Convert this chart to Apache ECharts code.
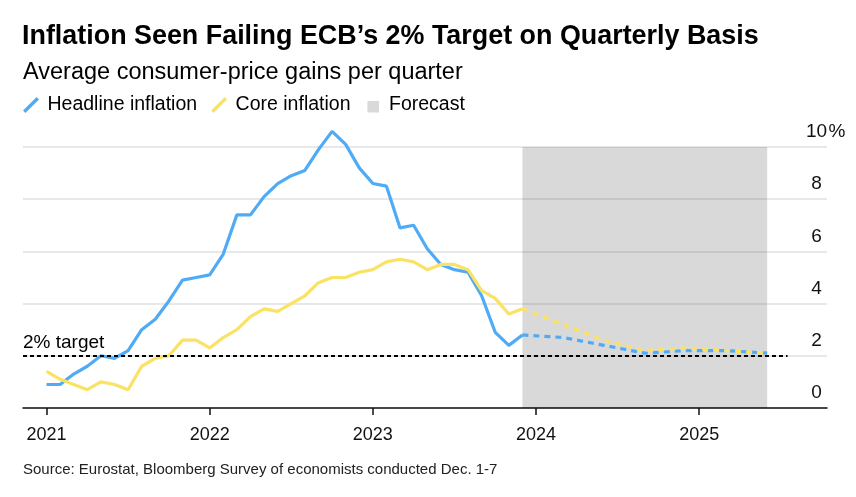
<!DOCTYPE html>
<html>
<head>
<meta charset="utf-8">
<script src="https://cdn.jsdelivr.net/npm/echarts@6/dist/echarts.min.js"></script>
<style>
html,body{margin:0;padding:0;background:#fff;}
#chart{width:856px;height:497px;}
</style>
</head>
<body>
<div id="chart"></div>
<script>
// ---- data ----
var startYear = 2021;
var yearLabels = ['2021', '2022', '2023', '2024', '2025'];
// monthly actuals Jan 2021 .. Dec 2023
var headline = [0.9, 0.9, 1.3, 1.6, 2.0, 1.9, 2.2, 3.0, 3.4, 4.1, 4.9, 5.0,
                5.1, 5.9, 7.4, 7.4, 8.1, 8.6, 8.9, 9.1, 9.9, 10.6, 10.1, 9.2,
                8.6, 8.5, 6.9, 7.0, 6.1, 5.5, 5.3, 5.2, 4.3, 2.9, 2.4, 2.8];
var core = [1.4, 1.1, 0.9, 0.7, 1.0, 0.9, 0.7, 1.6, 1.9, 2.0, 2.6, 2.6,
            2.3, 2.7, 3.0, 3.5, 3.8, 3.7, 4.0, 4.3, 4.8, 5.0, 5.0, 5.2,
            5.3, 5.6, 5.7, 5.6, 5.3, 5.5, 5.5, 5.3, 4.5, 4.2, 3.6, 3.8];
// quarterly forecasts
var forecastMonths = ['2023-12', '2024-03', '2024-06', '2024-09', '2024-12', '2025-03', '2025-06'];
var headlineForecast = [2.8, 2.7, 2.4, 2.1, 2.2, 2.2, 2.1];
var coreForecast = [3.8, 3.2, 2.6, 2.2, 2.3, 2.2, 2.1];
var target = 2;
var targetEndMonth = 54.5;   // target line ends mid-July 2025 (months since Jan 2021)
var yTicks = [0, 2, 4, 6, 8, 10];

// ---- helpers ----
function monthIndex(s) {
  var p = s.split('-');
  return (parseInt(p[0], 10) - startYear) * 12 + (parseInt(p[1], 10) - 1);
}
var actualX = headline.map(function (v, i) { return i; });
var yearTicks = yearLabels.map(function (y) { return monthIndex(y + '-01'); });

var BLUE = '#4fabf5';
var YELLOW = '#fae264';
var FONT = '"Liberation Sans", Arial, Helvetica, sans-serif';

var chart = echarts.init(document.getElementById('chart'), null, { renderer: 'canvas' });

var option = {
  animation: false,
  textStyle: { fontFamily: FONT },
  title: [
    { text: 'Inflation Seen Failing ECB\u2019s 2% Target on Quarterly Basis', left: 22, top: 23,
      padding: 0, textStyle: { fontFamily: FONT, fontSize: 26.9, fontWeight: 'bold', color: '#000' } },
    { text: 'Average consumer-price gains per quarter', left: 23, top: 61, padding: 0,
      textStyle: { fontFamily: FONT, fontSize: 23.5, fontWeight: 'normal', color: '#000' } },
    { text: 'Source: Eurostat, Bloomberg Survey of economists conducted Dec. 1-7', left: 23, top: 462, padding: 0,
      textStyle: { fontFamily: FONT, fontSize: 15, fontWeight: 'normal', color: '#222' } }
  ],
  legend: {
    left: 23, top: 95, padding: 0, itemGap: 14, itemWidth: 17, itemHeight: 16,
    selectedMode: false,
    textStyle: { fontFamily: FONT, fontSize: 19.5, color: '#000', padding: [0, 0, 0, 3] },
    data: [
      { name: 'Headline inflation', icon: 'path://M0,14 L14,0 L16.5,2.5 L2.5,16.5 Z', itemStyle: { color: BLUE } },
      { name: 'Core inflation', icon: 'path://M0,14 L14,0 L16.5,2.5 L2.5,16.5 Z', itemStyle: { color: YELLOW } },
      { name: 'Forecast', icon: 'path://M0,0 h0.05 v0.05 h-0.05 Z M3,4 H15 V16 H3 Z M16.45,16.45 h0.05 v0.05 h-0.05 Z', itemStyle: { color: '#d9d9d9' } }
    ]
  },
  grid: { left: 23, right: 29, top: 147, bottom: 89, containLabel: false },
  xAxis: {
    type: 'value',
    min: -1.73,
    max: 57.4,
    axisLine: { show: true, lineStyle: { color: '#111', width: 1.5 } },
    axisTick: { show: true, customValues: yearTicks, length: 7, lineStyle: { color: '#111', width: 1.5 } },
    axisLabel: {
      customValues: yearTicks, margin: 18, fontSize: 18, color: '#111', fontFamily: FONT,
      formatter: function (v) { return yearLabels[Math.round(v / 12)]; }
    },
    splitLine: { show: false }
  },
  yAxis: {
    type: 'value',
    position: 'right',
    min: 0, max: 10, interval: 2,
    axisLine: { show: false },
    axisTick: { show: false },
    splitLine: { show: true, lineStyle: { color: '#e0e0e0', width: 1.5 } },
    axisLabel: {
      inside: false, margin: -22, verticalAlign: 'bottom',
      formatter: function (v) { return v === 10 ? '{n|10}{u|%}' : '{n|' + v + '}{u| }'; },
      rich: {
        n: { width: 23, align: 'right', fontSize: 19, color: '#111', fontFamily: FONT, lineHeight: 20, padding: [0, 0, 10, 0] },
        u: { width: 18, align: 'left', fontSize: 19, color: '#111', fontFamily: FONT, lineHeight: 20, padding: [0, 0, 10, 0] }
      }
    }
  },
  series: [
    {
      name: 'Forecast', type: 'line', data: [], z: 1, silent: true,
      markArea: {
        silent: true,
        itemStyle: { color: 'rgba(0,0,0,0.15)' },
        data: [[{ coord: [monthIndex(forecastMonths[0]), yTicks[0]] },
                { coord: [monthIndex(forecastMonths[forecastMonths.length - 1]), yTicks[yTicks.length - 1]] }]]
      },
      markLine: {
        silent: true, symbol: ['none', 'none'],
        lineStyle: { color: '#000', width: 1.8, type: [4, 3] },
        label: {
          show: true, position: 'insideStartTop', formatter: '2% target', distance: [0, 4],
          fontSize: 19, color: '#000', fontFamily: FONT
        },
        data: [[{ coord: [-1.73, target] }, { coord: [targetEndMonth, target] }]]
      }
    },
    {
      name: 'Headline inflation', type: 'line', clip: false, symbol: 'none', z: 3,
      lineStyle: { color: BLUE, width: 3.2 }, itemStyle: { color: BLUE },
      data: actualX.map(function (x, i) { return [x, headline[i]]; })
    },
    {
      name: 'Headline inflation', type: 'line', clip: false, symbol: 'none', z: 3,
      lineStyle: { color: BLUE, width: 3.2, type: [6, 5] }, itemStyle: { color: BLUE },
      data: forecastMonths.map(function (m, i) { return [monthIndex(m), headlineForecast[i]]; })
    },
    {
      name: 'Core inflation', type: 'line', clip: false, symbol: 'none', z: 4,
      lineStyle: { color: YELLOW, width: 3.2 }, itemStyle: { color: YELLOW },
      data: actualX.map(function (x, i) { return [x, core[i]]; })
    },
    {
      name: 'Core inflation', type: 'line', clip: false, symbol: 'none', z: 4,
      lineStyle: { color: YELLOW, width: 3.2, type: [6, 5] }, itemStyle: { color: YELLOW },
      data: forecastMonths.map(function (m, i) { return [monthIndex(m), coreForecast[i]]; })
    }
  ]
};
chart.setOption(option);
</script>
</body>
</html>
